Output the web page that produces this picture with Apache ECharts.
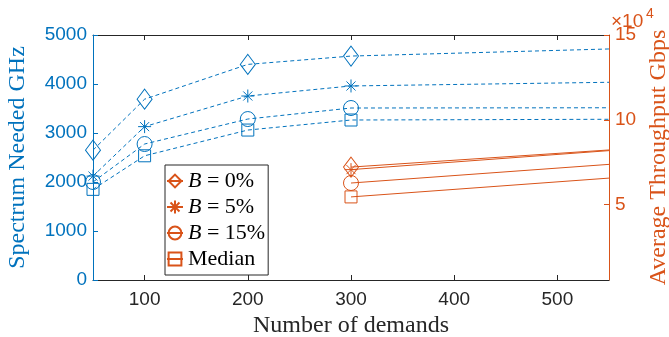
<!DOCTYPE html>
<html>
<head>
<meta charset="utf-8">
<script src="https://cdn.jsdelivr.net/npm/echarts@6/dist/echarts.min.js"></script>
<style>
html, body { margin: 0; padding: 0; background: #fff; }
#char { width: 669px; height: 337px; }
</style>
</head>
<body>
<div id="char"></div>
<script>
// 左轴: 频谱 (GHz)
var demands = [50, 100, 200, 300, 550];
var spec0 = [2650, 3690, 4400, 4570, 4715];
var spec5 = [2120, 3130, 3755, 3960, 4035];
var spec15 = [2000, 2775, 3285, 3510, 3515];
var specMedian = [1850, 2535, 3060, 3265, 3280];
// 右轴: 吞吐量 (Gbps)
var tputX = [300, 550];
var tput0 = [72100, 82200];
var tput5 = [70600, 81800];
var tput15 = [62700, 73700];
var tputMedian = [54500, 65600];
var names = ['B = 0%', 'B = 5%', 'B = 15%', 'Median'];
var xTicks = [100, 200, 300, 400, 500];
var rightTicks = [50000, 100000, 150000];

var blue = '#0072BD';
var orange = '#D95319';
var star = 'path://M0,-1L0,1M-1,0L1,0M-0.7,-0.7L0.7,0.7M-0.7,0.7L0.7,-0.7';
var symbols = ['diamond', star, 'circle', 'rect'];
var sizes = [[15, 20], 13, 15, 12];

function pts(xs, ys, lastBare) {
    var out = [];
    for (var i = 0; i < xs.length; i++) {
        if (lastBare && i == xs.length - 1) {
            out.push({ value: [xs[i], ys[i]], symbol: 'none' });
        } else {
            out.push([xs[i], ys[i]]);
        }
    }
    return out;
}

var dom = document.getElementById("char");
var myChart = echarts.init(dom);

var series = [];
[spec0, spec5, spec15, specMedian].forEach(function (s, k) {
    series.push({
        name: 'spec' + k,
        type: 'line',
        yAxisIndex: 0,
        data: pts(demands, s, true),
        symbol: symbols[k],
        symbolSize: sizes[k],
        showSymbol: true,
        lineStyle: { color: blue, width: 1, type: [4, 3] },
        itemStyle: { color: 'rgba(0,0,0,0)', borderColor: blue, borderWidth: 1 },
        emphasis: { disabled: true },
        z: 2
    });
});
[tput0, tput5, tput15, tputMedian].forEach(function (s, k) {
    series.push({
        name: names[k],
        type: 'line',
        yAxisIndex: 1,
        data: pts(tputX, s, true),
        symbol: symbols[k],
        symbolSize: sizes[k],
        showSymbol: true,
        lineStyle: { color: orange, width: 1 },
        itemStyle: { color: 'rgba(0,0,0,0)', borderColor: orange, borderWidth: 1 },
        emphasis: { disabled: true },
        z: 3
    });
});

option = {
    animation: false,
    grid: { left: 93, right: 60, top: 35, bottom: 57, outerBoundsMode: 'none', containLabel: false },
    legend: {
        data: names,
        left: 165,
        top: 165,
        orient: 'vertical',
        padding: [5, 3, 5, 1],
        itemWidth: 16,
        itemHeight: 16,
        itemGap: 4,
        backgroundColor: '#fff',
        borderColor: '#262626',
        borderWidth: 1,
        selectedMode: false,
        formatter: function (name) {
            if (name.charAt(0) == 'B') {
                return '{i|B}' + name.substring(1);
            }
            return name;
        },
        textStyle: {
            fontFamily: 'Liberation Serif',
            fontSize: 22,
            lineHeight: 20,
            color: '#000',
            rich: {
                i: { fontFamily: 'Liberation Serif', fontStyle: 'italic', fontSize: 22, lineHeight: 20, color: '#000' }
            }
        }
    },
    xAxis: [{
        type: 'value',
        min: 50,
        max: 550,
        name: 'Number of demands',
        nameLocation: 'middle',
        nameGap: 23,
        nameTextStyle: { fontFamily: 'Liberation Serif', fontSize: 24, color: '#262626' },
        axisLine: { lineStyle: { color: '#262626', width: 1 } },
        axisTick: { inside: true, length: 5, customValues: xTicks, lineStyle: { color: '#262626' } },
        axisLabel: {
            customValues: xTicks, margin: 10, fontFamily: 'Liberation Sans', fontSize: 19, color: '#262626',
            formatter: function (v) { return String(v); }
        },
        splitLine: { show: false }
    }, {
        type: 'value',
        position: 'top',
        min: 50,
        max: 550,
        axisLine: { show: true, lineStyle: { color: '#262626', width: 1 } },
        axisTick: { inside: true, length: 5, customValues: xTicks, lineStyle: { color: '#262626' } },
        axisLabel: { show: false },
        splitLine: { show: false }
    }],
    yAxis: [{
        type: 'value',
        min: 0,
        max: 5000,
        interval: 1000,
        name: 'Spectrum Needed GHz',
        nameLocation: 'middle',
        nameGap: 63,
        nameRotate: 90,
        nameTextStyle: { fontFamily: 'Liberation Serif', fontSize: 24, color: blue },
        axisLine: { show: true, lineStyle: { color: blue, width: 1 } },
        axisTick: { show: true, inside: true, length: 5, lineStyle: { color: blue } },
        axisLabel: {
            margin: 6, fontFamily: 'Liberation Sans', fontSize: 19, color: blue,
            formatter: function (v) { return String(v); }
        },
        splitLine: { show: false }
    }, {
        type: 'value',
        position: 'right',
        min: 5500,
        max: 150000,
        name: 'Average Throughput Gbps',
        nameLocation: 'middle',
        nameGap: 37,
        nameRotate: 90,
        nameTextStyle: { fontFamily: 'Liberation Serif', fontSize: 24, color: orange },
        axisLine: { show: true, lineStyle: { color: orange, width: 1 } },
        axisTick: { show: true, inside: true, length: 5, customValues: rightTicks, lineStyle: { color: orange } },
        axisLabel: {
            customValues: rightTicks,
            margin: 6,
            fontFamily: 'Liberation Sans',
            fontSize: 19,
            color: orange,
            formatter: function (v) { return String(v / 10000); }
        },
        splitLine: { show: false }
    }],
    graphic: [{
        type: 'text',
        left: 611,
        top: 12,
        style: { text: '×10', fontFamily: 'Liberation Sans', fontSize: 19, fill: orange }
    }, {
        type: 'text',
        left: 646,
        top: 7,
        style: { text: '4', fontFamily: 'Liberation Sans', fontSize: 14, fill: orange }
    }],
    series: series
};
myChart.setOption(option);
</script>
</body>
</html>
